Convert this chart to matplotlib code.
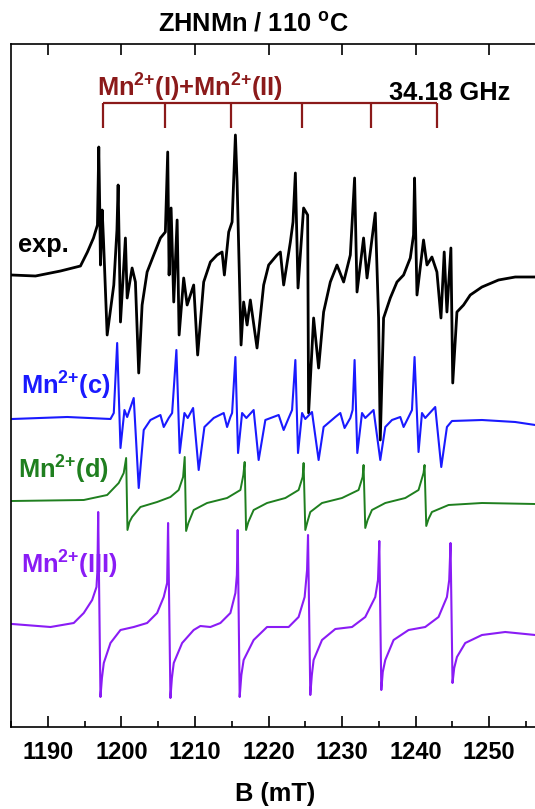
import numpy as np
import matplotlib
matplotlib.use('Agg')
import matplotlib.pyplot as plt
from matplotlib.ticker import MultipleLocator

plt.rcParams['font.family'] = ['Liberation Sans', 'DejaVu Sans']
plt.rcParams['font.weight'] = 'bold'
plt.rcParams['mathtext.fontset'] = 'custom'
plt.rcParams['mathtext.rm'] = 'Liberation Sans:bold'
plt.rcParams['mathtext.bf'] = 'Liberation Sans:bold'
plt.rcParams['mathtext.it'] = 'Liberation Sans:bold'
plt.rcParams['mathtext.default'] = 'bf'

# experimental spectrum (B in mT, signal relative to its baseline)
b_exp = [1185.07, 1188.33, 1191.73, 1194.44, 1195.39, 1196.21, 1196.75, 1196.93, 1197.06, 1197.16,
         1197.39, 1197.57, 1198.07, 1198.97, 1199.40, 1199.56, 1199.74, 1199.88, 1200.55, 1200.79,
         1201.46, 1201.91, 1202.36, 1202.82, 1203.50, 1204.40, 1205.31, 1205.98, 1206.30, 1206.49,
         1206.76, 1207.12, 1207.58, 1207.85, 1208.47, 1208.94, 1209.83, 1210.37, 1211.19, 1212.10,
         1213.01, 1213.69, 1214.00, 1214.59, 1215.05, 1215.50, 1215.73, 1216.27, 1216.62, 1217.09,
         1217.53, 1218.44, 1219.34, 1220.02, 1221.16, 1221.61, 1222.06, 1222.97, 1223.33, 1223.65,
         1224.01, 1224.77, 1225.32, 1225.45, 1226.13, 1226.81, 1227.49, 1228.40, 1229.31, 1230.21,
         1231.12, 1231.70, 1232.03, 1232.92, 1233.39, 1234.51, 1234.96, 1235.19, 1235.64, 1236.55,
         1237.46, 1238.36, 1239.27, 1239.71, 1239.85, 1240.18, 1241.07, 1241.54, 1242.21, 1242.89,
         1243.44, 1243.88, 1244.25, 1244.79, 1245.04, 1245.61, 1246.51, 1247.42, 1249.01, 1251.26,
         1253.53, 1256.25]
s_exp = [0, -1, 4, 9, 23, 37, 50, 128, 67, 10,
         65, 35, -60, -10, 45, 90, 15, -47, 37, -23,
         7, -7, -98, -30, 3, 20, 37, 43, 123, 0,
         67, -27, 55, -60, -3, -30, -10, -80, -7, 13,
         20, 23, 0, 43, 53, 140, 93, -70, -27, -50,
         -25, -73, -10, 10, 20, 23, -10, 33, 53, 102,
         -13, 67, 60, -138, -43, -93, -37, -7, 10, -7,
         20, 97, -17, 37, -3, 62, -43, -165, -43, -23,
         -7, 0, 17, 40, 97, -20, 35, 10, 18, 3,
         -43, 23, -37, 27, -108, -37, -30, -20, -12, -5,
         -2, -2]

# simulated Mn2+(c)
b_c = [1185.16, 1192.64, 1198.52, 1198.97, 1199.43, 1199.88, 1200.42, 1200.79, 1201.68, 1202.36,
       1203.04, 1203.95, 1205.31, 1205.76, 1206.44, 1206.90, 1207.48, 1207.93, 1208.57, 1209.02,
       1209.75, 1210.51, 1211.29, 1212.55, 1213.91, 1214.37, 1214.82, 1215.05, 1215.50, 1215.86,
       1216.41, 1216.99, 1217.98, 1218.66, 1219.57, 1221.38, 1222.06, 1222.74, 1223.20, 1223.65,
       1224.01, 1224.56, 1225.00, 1225.91, 1226.81, 1227.49, 1229.08, 1229.76, 1230.34, 1231.12,
       1231.43, 1231.70, 1232.07, 1232.71, 1233.15, 1234.28, 1235.19, 1235.87, 1236.78, 1237.91,
       1238.36, 1239.04, 1239.50, 1239.85, 1240.39, 1240.86, 1241.30, 1242.66, 1243.48, 1244.25,
       1244.93, 1249.01, 1253.53, 1256.25]
s_c = [0, 2, 0, 6, 76, -29, 9, 2, 21, -69,
       -11, -1, 4, -8, 1, 6, 69, -34, 6, 1,
       11, -51, -8, 1, 6, -8, 2, 6, 62, -34,
       6, 1, 9, -41, -1, 4, -11, 1, 9, 59,
       -34, 6, 0, 7, -41, -8, 2, 6, -9, 1,
       9, 59, -34, 6, 1, 9, -41, -8, -1, 2,
       -8, 2, 9, 62, -33, 6, 1, 12, -48, -8,
       -2, -1, -3, -6]

# simulated Mn2+(d)
b_d = [1185.16, 1194.89, 1198.07, 1199.64, 1200.32, 1200.65, 1200.83, 1201.10, 1201.46, 1202.59,
       1204.86, 1206.67, 1207.79, 1208.39, 1208.61, 1208.80, 1209.11, 1209.83, 1211.65, 1214.37,
       1216.18, 1216.58, 1216.76, 1216.95, 1217.26, 1217.98, 1219.80, 1222.29, 1224.09, 1224.64,
       1224.77, 1225.00, 1225.32, 1225.68, 1227.27, 1229.99, 1232.24, 1232.79, 1232.92, 1233.15,
       1233.47, 1234.06, 1235.87, 1238.59, 1240.39, 1241.07, 1241.21, 1241.44, 1241.75, 1242.21,
       1244.47, 1249.01, 1256.25]
s_d = [0, 1, 6, 18, 28, 43, -29, -21, -16, -6,
       -1, 4, 11, 24, 44, -30, -22, -9, -2, 3,
       11, 26, 39, -29, -21, -9, -2, 3, 11, 24,
       38, -29, -20, -11, -2, 3, 11, 24, 36, -27,
       -19, -9, -2, 3, 11, 28, 36, -25, -18, -11,
       -4, -2, -3]

# simulated Mn2+(III)
b_iii = [1185.16, 1190.37, 1193.53, 1194.89, 1196.03, 1196.62, 1196.75, 1196.85, 1197.16, 1197.36,
         1197.61, 1198.52, 1199.88, 1201.68, 1203.50, 1204.86, 1205.76, 1206.22, 1206.35, 1206.67,
         1206.87, 1207.12, 1208.26, 1209.83, 1210.74, 1212.10, 1213.46, 1214.82, 1215.50, 1215.70,
         1215.81, 1216.08, 1216.31, 1216.62, 1217.98, 1219.80, 1221.38, 1222.74, 1224.09, 1224.91,
         1225.24, 1225.37, 1225.68, 1225.89, 1226.13, 1227.27, 1229.08, 1231.35, 1233.15, 1234.51,
         1234.88, 1235.06, 1235.33, 1235.53, 1235.87, 1237.00, 1239.04, 1241.30, 1243.11, 1244.25,
         1244.56, 1244.74, 1245.01, 1245.24, 1245.61, 1246.74, 1249.01, 1252.17, 1256.25]
s_iii = [1, -2, 2, 12, 25, 38, 55, 113, -72, -53,
         -38, -18, -5, -2, 2, 12, 28, 42, 102, -73,
         -53, -38, -18, -5, -1, -2, 2, 12, 32, 50,
         95, -72, -50, -35, -15, -2, -2, -2, 8, 28,
         55, 90, -70, -50, -35, -15, -4, -2, 8, 28,
         45, 84, -65, -47, -35, -15, -5, -2, 8, 28,
         45, 82, -58, -43, -32, -18, -10, -7, -10]

# stick diagram Mn2+(I)+Mn2+(II)
sticks = [1197.57, 1205.99, 1214.95, 1224.60, 1233.97, 1242.93]

offsets = {'exp': 452, 'c': 308, 'd': 226, 'iii': 102}

fig = plt.figure(figsize=(5.35, 8.09), dpi=100)
ax = fig.add_axes([11/535, 82/809, 529/535, 683/809])

ax.plot(b_exp, np.array(s_exp) + offsets['exp'], color='black', lw=2.0)
ax.plot(b_c, np.array(s_c) + offsets['c'], color='#1a1aff', lw=1.5)
ax.plot(b_d, np.array(s_d) + offsets['d'], color='#1f7f1f', lw=1.4)
ax.plot(b_iii, np.array(s_iii) + offsets['iii'], color='#8a1cf5', lw=1.5)

red = '#8b1a1a'
ax.plot([sticks[0], sticks[-1]], [624, 624], color=red, lw=1.6, solid_capstyle='butt')
for s in sticks:
    ax.plot([s, s], [624, 599], color=red, lw=1.6, solid_capstyle='butt')

fs = 18.3
sup = '$^{2{+}}$'
ax.text(1196.7, 630, 'Mn' + sup + '(I)+Mn' + sup + '(II)', color=red, fontsize=fs,
        ha='left', va='baseline')
ax.text(1252.9, 627, '34.18 GHz', color='black', fontsize=fs, ha='right', va='baseline')
ax.text(1185.9, 482, 'exp.', color='black', fontsize=fs, ha='left', va='center')
ax.text(1186.3, 341, 'Mn' + sup + '(c)', color='#1a1aff', fontsize=fs, ha='left', va='center')
ax.text(1185.9, 257, 'Mn' + sup + '(d)', color='#1f7f1f', fontsize=fs, ha='left', va='center')
ax.text(1186.3, 162, 'Mn' + sup + '(III)', color='#8a1cf5', fontsize=fs, ha='left', va='center')

ax.set_xlim(1185.0, 1256.9)
ax.set_ylim(0, 683)
ax.xaxis.set_major_locator(MultipleLocator(10))
ax.xaxis.set_minor_locator(MultipleLocator(5))
ax.tick_params(axis='x', which='major', direction='in', length=8, width=1.2, top=True,
               labelsize=17, pad=10)
ax.tick_params(axis='x', which='minor', direction='in', length=4, width=1.2, top=False)
ax.set_yticks([])
for sp in ax.spines.values():
    sp.set_linewidth(1.2)
ax.set_xlabel('B (mT)', fontsize=fs, fontweight='bold', labelpad=13)

fig.text(253/535, 1 - 24/809, 'ZHNMn / 110 $^{o}$C', fontsize=fs, ha='center', va='center')

fig.savefig('out.png', dpi=100)
